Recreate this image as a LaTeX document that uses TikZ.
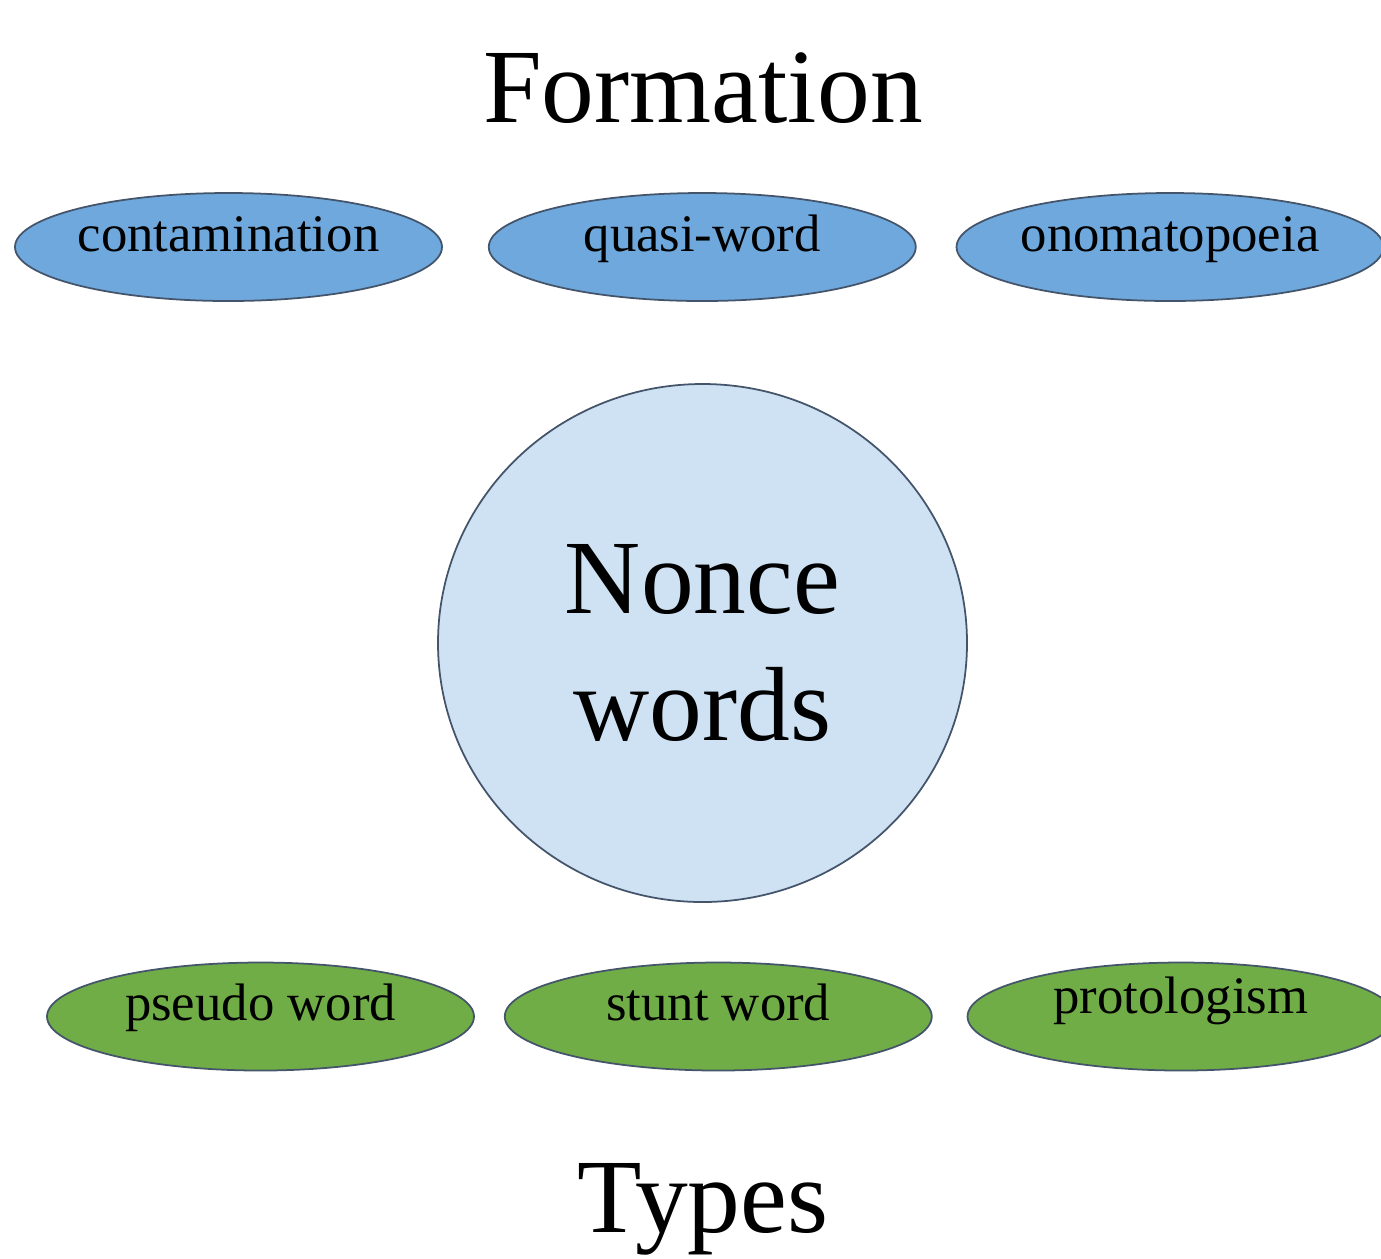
\documentclass[tikz,border=0pt]{standalone}
\usepackage{fontspec}
\setmainfont{Liberation Serif}
\usetikzlibrary{shapes.geometric, positioning}
\definecolor{formblue}{HTML}{6FA8DC}
\definecolor{typegreen}{HTML}{70AD47}
\definecolor{palecircle}{HTML}{CFE2F3}
\definecolor{slateline}{HTML}{44546A}

\begin{document}
\begin{tikzpicture}[
			node distance=0.45cm,
			oval/.style={ellipse, draw=slateline, line width=0.5pt, inner sep=0pt,
				minimum width=4.27cm, minimum height=1.08cm,
				font=\fontsize{15}{18}\selectfont, text height=0.2cm, text depth=0.12cm},
			formoval/.style={oval, fill=formblue},
			typeoval/.style={oval, fill=typegreen},
			heading/.style={font=\fontsize{30}{36}\selectfont, anchor=base, inner sep=0pt}
			]

			\useasboundingbox (0,0) rectangle (13.81,-12.58);
			\clip (0,0) rectangle (13.81,-12.58);

			\node[heading] (formation) at (7.03,-1.22) {Formation};

			\node[formoval] (contam) at (2.285,-2.47) {contamination};
			\node[formoval, right=0.45cm of contam] (quasi) {quasi-word};
			\node[formoval, right=0.39cm of quasi] (onoma) {onomatopoeia};

			\node[ellipse, draw=slateline, fill=palecircle, line width=0.5pt, inner sep=0pt,
				minimum width=5.29cm, minimum height=5.18cm, align=center,
				font=\fontsize{30}{36.4}\selectfont] (nonce) at (7.025,-6.43) {Nonce\\words};

			\node[typeoval] (pseudo) at (2.605,-10.165) {pseudo word};
			\node[typeoval, right=0.29cm of pseudo] (stunt) {stunt word};
			\node[typeoval, right=0.34cm of stunt, text depth=0.26cm] (proto) {protologism};

			\node[heading] (types) at (7.03,-12.32) {Types};

		\end{tikzpicture}
\end{document}
